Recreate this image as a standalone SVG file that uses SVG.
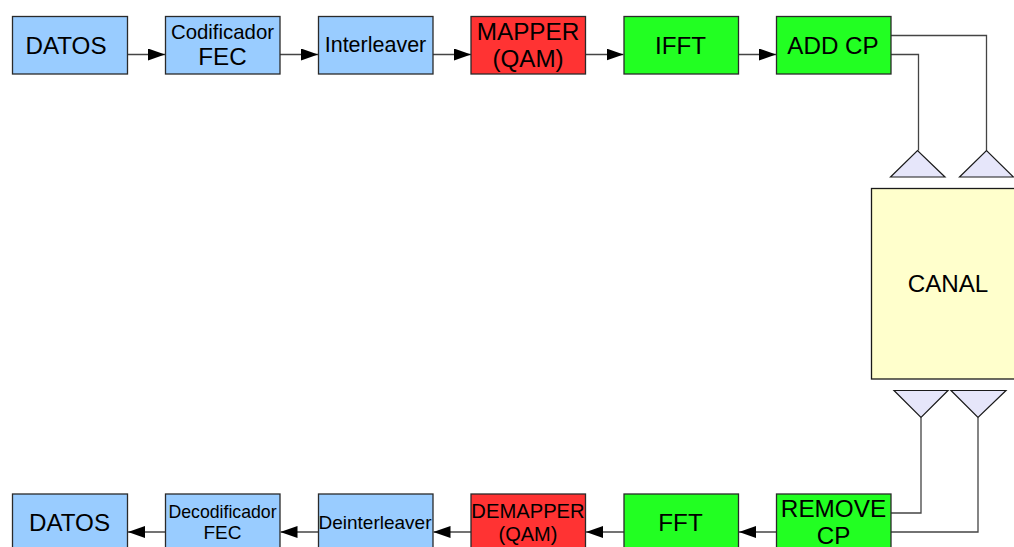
<svg xmlns="http://www.w3.org/2000/svg" width="1014" height="547" viewBox="0 0 1014 547">
<style>
.b{stroke:#2a2a2a;stroke-width:1.3}
.blue{fill:#99ccff}.red{fill:#ff3333}.green{fill:#22ff22}
.t{fill:#000;font-family:"Liberation Sans",Arial,sans-serif;text-anchor:middle}
.ant{fill:#e6e6fa;stroke:#1a1a1a;stroke-width:1.2;stroke-linejoin:miter}
.w{fill:none;stroke:#444;stroke-width:1.3}
.c{fill:none;stroke:#444;stroke-width:1.3;marker-end:url(#a)}
</style>
<defs><marker id="a" markerUnits="userSpaceOnUse" markerWidth="17" markerHeight="12" refX="17" refY="6" orient="auto"><path d="M0,0L17,6L0,12Z" fill="#000"/></marker></defs>
<g id="connectors">
<path class="c" d="M127.5,54.500H165"/><path class="c" d="M280,54.500H318"/><path class="c" d="M433,54.500H471"/><path class="c" d="M585.500,54.500H623.500"/><path class="c" d="M738.500,54.500H776"/>
<path class="c" d="M165.500,532H128"/><path class="c" d="M318.500,532H280.500"/><path class="c" d="M471,532H433.500"/><path class="c" d="M624,532H586"/><path class="c" d="M776.500,532H739"/>
<path class="w" d="M891,35.500H986.500V150.500"/><path class="w" d="M891,54.500H918.500V150.500"/>
<path class="w" d="M891,513H921V417.500"/><path class="w" d="M891,532H978V417.500"/>
</g>
<g id="n1"><rect class="b blue" x="12.500" y="16.500" width="115" height="57.500"/><text class="t" x="66" y="54" font-size="24.200">DATOS</text></g>
<g id="n2"><rect class="b blue" x="165.500" y="16.500" width="114.500" height="57.500"/><text class="t" x="222.500" y="39" font-size="20.400">Codificador</text><text class="t" x="222.500" y="65" font-size="24.200">FEC</text></g>
<g id="n3"><rect class="b blue" x="318.500" y="16.500" width="114.500" height="57.500"/><text class="t" x="375.500" y="52" font-size="21.500">Interleaver</text></g>
<g id="n4"><rect class="b red" x="471" y="16.500" width="114.500" height="57.500"/><text class="t" x="528" y="40" font-size="24.300">MAPPER</text><text class="t" x="528" y="67" font-size="24.200">(QAM)</text></g>
<g id="n5"><rect class="b green" x="624" y="16.500" width="114.500" height="57.500"/><text class="t" x="680.500" y="54" font-size="24.200">IFFT</text></g>
<g id="n6"><rect class="b green" x="776.500" y="16.500" width="114.500" height="57.500"/><text class="t" x="833" y="54" font-size="24.200">ADD CP</text></g>
<g id="ant1"><path class="ant" d="M890.500,177L917.500,150.500L945,177Z"/></g>
<g id="ant2"><path class="ant" d="M959.500,177L986.500,150.500L1013.500,177Z"/></g>
<g id="canal"><rect x="871.500" y="188.500" width="150" height="190.500" fill="#ffffcc" stroke="#1a1a1a" stroke-width="1.3"/><text class="t" x="948" y="292" font-size="24.200">CANAL</text></g>
<g id="ant3"><path class="ant" d="M894,390.500L921,417.500L948,390.500Z"/></g>
<g id="ant4"><path class="ant" d="M951,390.500L978,417.500L1006,390.500Z"/></g>
<g id="n7"><rect class="b blue" x="12.500" y="494" width="115" height="57.500"/><text class="t" x="69.500" y="531" font-size="24.200">DATOS</text></g>
<g id="n8"><rect class="b blue" x="165.500" y="494" width="114.500" height="57.500"/><text class="t" x="222.500" y="518" font-size="17.700">Decodificador</text><text class="t" x="222.500" y="539" font-size="19">FEC</text></g>
<g id="n9"><rect class="b blue" x="318.500" y="494" width="114.500" height="57.500"/><text class="t" x="375" y="529" font-size="19">Deinterleaver</text></g>
<g id="n10"><rect class="b red" x="471" y="494" width="114.500" height="57.500"/><text class="t" x="528" y="518" font-size="20.200">DEMAPPER</text><text class="t" x="528" y="541" font-size="20">(QAM)</text></g>
<g id="n11"><rect class="b green" x="624" y="494" width="114.500" height="57.500"/><text class="t" x="680.500" y="531" font-size="24.200">FFT</text></g>
<g id="n12"><rect class="b green" x="776.500" y="494" width="114.500" height="57.500"/><text class="t" x="833.500" y="516.500" font-size="24.300">REMOVE</text><text class="t" x="833.500" y="544" font-size="24.200">CP</text></g>
</svg>
